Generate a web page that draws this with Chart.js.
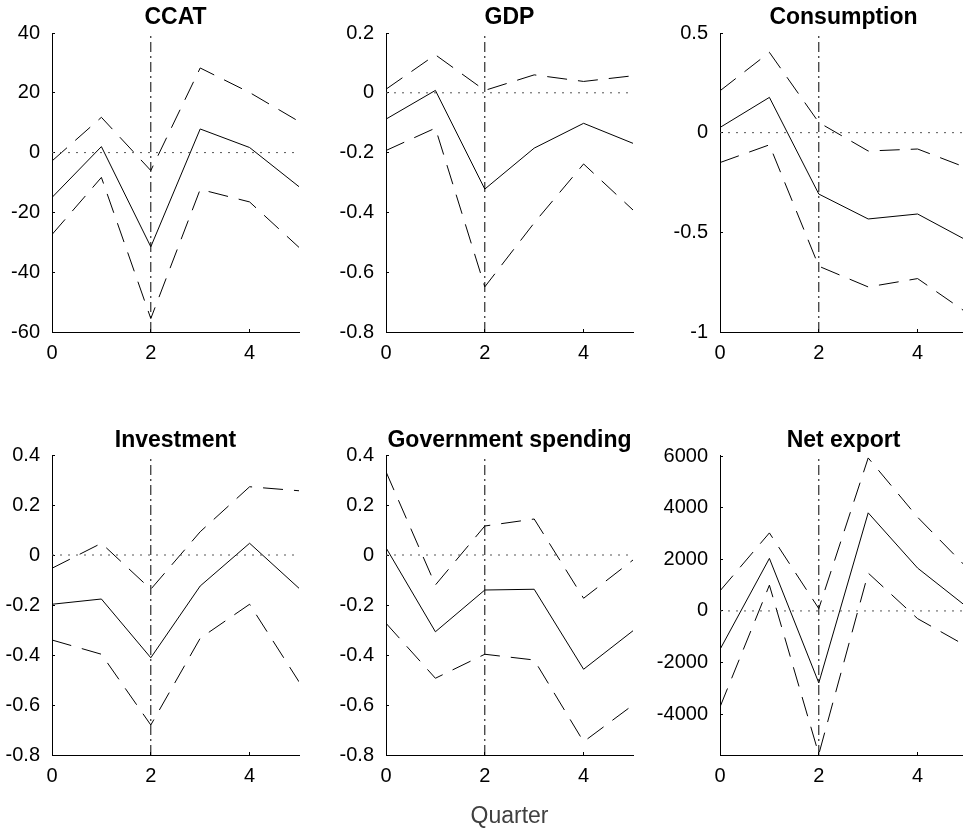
<!DOCTYPE html>
<html>
<head>
<meta charset="utf-8">
<script src="https://cdn.jsdelivr.net/npm/chart.js@4.4.1/dist/chart.umd.min.js"></script>
<style>
  html, body { margin: 0; padding: 0; background: #fff; width: 963px; height: 830px; overflow: hidden; }
  canvas { position: absolute; }
</style>
</head>
<body>
<canvas id="ccat"></canvas>
<canvas id="gdp"></canvas>
<canvas id="cons"></canvas>
<canvas id="inv"></canvas>
<canvas id="gov"></canvas>
<canvas id="nx"></canvas>
<script>
// Horizon (quarters after the shock) and the x-axis tick marks
const quarters = [0, 1, 2, 3, 4, 5];
const xTicks = [0, 2, 4];
const shockQuarter = 2;

// Impulse responses: point estimate with upper / lower bands
const ccatMid   = [-15.0, 2.0, -31.5, 7.9, 1.7, -11.4];
const ccatUpper = [-2.8, 11.8, -6.0, 28.3, 20.1, 10.4];
const ccatLower = [-27.4, -8.3, -55.5, -12.3, -16.5, -31.7];
const ccatTicks = [-60, -40, -20, 0, 20, 40];

const gdpMid   = [-0.088, 0.008, -0.322, -0.185, -0.102, -0.169];
const gdpUpper = [0.012, 0.127, 0.008, 0.060, 0.038, 0.057];
const gdpLower = [-0.193, -0.118, -0.649, -0.435, -0.238, -0.392];
const gdpTicks = [-0.8, -0.6, -0.4, -0.2, 0, 0.2];

const consMid   = [0.026, 0.177, -0.308, -0.433, -0.408, -0.541];
const consUpper = [0.210, 0.403, 0.051, -0.092, -0.082, -0.177];
const consLower = [-0.150, -0.061, -0.670, -0.774, -0.732, -0.904];
const consTicks = [-1, -0.5, 0, 0.5];

const invMid   = [-0.197, -0.176, -0.411, -0.124, 0.047, -0.133];
const invUpper = [-0.053, 0.047, -0.137, 0.093, 0.273, 0.257];
const invLower = [-0.340, -0.397, -0.680, -0.333, -0.197, -0.507];
const invTicks = [-0.8, -0.6, -0.4, -0.2, 0, 0.2, 0.4];

const govMid   = [0.029, -0.307, -0.140, -0.137, -0.457, -0.303];
const govUpper = [0.333, -0.120, 0.116, 0.144, -0.173, -0.020];
const govLower = [-0.273, -0.493, -0.397, -0.420, -0.747, -0.600];
const govTicks = [-0.8, -0.6, -0.4, -0.2, 0, 0.2, 0.4];

const nxMid   = [-1494, 2039, -2793, 3806, 1663, 150];
const nxUpper = [779, 3027, 91, 5936, 3637, 1676];
const nxLower = [-3728, 1000, -5560, 1468, -299, -1377];
const nxTicks = [-4000, -2000, 0, 2000, 4000, 6000];

const FONT = "'Liberation Sans', Arial, Helvetica, sans-serif";
const PLOT_W = 247;
const RIGHT_PAD = 10;

// gutter = room left of each plot for its y tick labels
const panels = [
  { id: 'ccat', title: 'CCAT', mid: ccatMid, up: ccatUpper, lo: ccatLower, ticks: ccatTicks, yMin: -60, yMax: 40,
    left: 0, gutter: 52, top: 0, plotH: 299, xH: 40, titlePad: { top: 4, bottom: 1.4 } },
  { id: 'gdp', title: 'GDP', mid: gdpMid, up: gdpUpper, lo: gdpLower, ticks: gdpTicks, yMin: -0.8, yMax: 0.2,
    left: 306, gutter: 80, top: 0, plotH: 299, xH: 40, titlePad: { top: 4, bottom: 1.4 } },
  { id: 'cons', title: 'Consumption', mid: consMid, up: consUpper, lo: consLower, ticks: consTicks, yMin: -1, yMax: 0.5,
    left: 640, gutter: 80, top: 0, plotH: 299, xH: 40, titlePad: { top: 4, bottom: 1.4 } },
  { id: 'inv', title: 'Investment', mid: invMid, up: invUpper, lo: invLower, ticks: invTicks, yMin: -0.8, yMax: 0.4,
    left: 0, gutter: 52, top: 422, plotH: 300, xH: 40, titlePad: { top: 5, bottom: 0.4 } },
  { id: 'gov', title: 'Government spending', mid: govMid, up: govUpper, lo: govLower, ticks: govTicks, yMin: -0.8, yMax: 0.4,
    left: 306, gutter: 80, top: 422, plotH: 300, xH: 75, titlePad: { top: 5, bottom: 0.4 }, xTitle: 'Quarter' },
  { id: 'nx', title: 'Net export', mid: nxMid, up: nxUpper, lo: nxLower, ticks: nxTicks, yMin: -5590, yMax: 6050,
    left: 640, gutter: 80, top: 422, plotH: 300, xH: 40, titlePad: { top: 5, bottom: 0.4 } }
];

const toXY = (arr) => arr.map((v, i) => ({ x: quarters[i], y: v }));

panels.forEach((p) => {
  const canvas = document.getElementById(p.id);
  const w = p.gutter + PLOT_W + RIGHT_PAD;
  const h = 33 + p.plotH + p.xH;
  canvas.width = w;
  canvas.height = h;
  canvas.style.left = p.left + 'px';
  canvas.style.top = p.top + 'px';
  canvas.style.width = w + 'px';
  canvas.style.height = h + 'px';

  const line = (data, dash, color) => ({
    data, borderColor: color || '#000', borderWidth: 1, borderDash: dash,
    pointRadius: 0, tension: 0, fill: false
  });

  new Chart(canvas, {
    type: 'line',
    data: {
      datasets: [
        line([{ x: quarters[0], y: 0 }, { x: quarters[quarters.length - 1], y: 0 }], [2, 6], '#555'),
        line([{ x: shockQuarter, y: p.yMin }, { x: shockQuarter, y: p.yMax }], [10, 4, 2, 4]),
        line(toXY(p.up), [20, 11]),
        line(toXY(p.lo), [20, 11]),
        line(toXY(p.mid), [])
      ]
    },
    options: {
      responsive: false,
      animation: false,
      devicePixelRatio: 1,
      layout: { padding: { left: 0, right: RIGHT_PAD, top: 0, bottom: 0 } },
      plugins: {
        legend: { display: false },
        tooltip: { enabled: false },
        title: {
          display: true, text: p.title, fullSize: false, color: '#000',
          font: { family: FONT, size: 23, weight: 'bold', lineHeight: 1.2 },
          padding: p.titlePad
        }
      },
      scales: {
        x: {
          type: 'linear', min: quarters[0], max: quarters[quarters.length - 1],
          afterBuildTicks: (s) => { s.ticks = xTicks.map((v) => ({ value: v })); },
          afterFit: (s) => { s.height = p.xH; },
          ticks: {
            autoSkip: false, maxRotation: 0, padding: 12, color: '#000',
            font: { family: FONT, size: 20, lineHeight: 1.2 },
            callback: (v) => String(v)
          },
          grid: { display: true, drawOnChartArea: false, drawTicks: true, tickLength: -3, color: '#000', lineWidth: 1 },
          border: { display: true, color: '#000', width: 1 },
          title: p.xTitle ? {
            display: true, text: p.xTitle, color: '#404040',
            font: { family: FONT, size: 23, lineHeight: 1.2 },
            padding: { top: 0, bottom: 0 }
          } : { display: false }
        },
        y: {
          type: 'linear', min: p.yMin, max: p.yMax,
          afterBuildTicks: (s) => { s.ticks = p.ticks.map((v) => ({ value: v })); },
          afterFit: (s) => { s.width = p.gutter; },
          ticks: {
            autoSkip: false, padding: 15, color: '#000',
            font: { family: FONT, size: 20, lineHeight: 1.2 },
            callback: (v) => String(v)
          },
          grid: { display: true, drawOnChartArea: false, drawTicks: true, tickLength: -3, color: '#000', lineWidth: 1 },
          border: { display: true, color: '#000', width: 1 }
        }
      }
    }
  });
});
</script>
</body>
</html>
